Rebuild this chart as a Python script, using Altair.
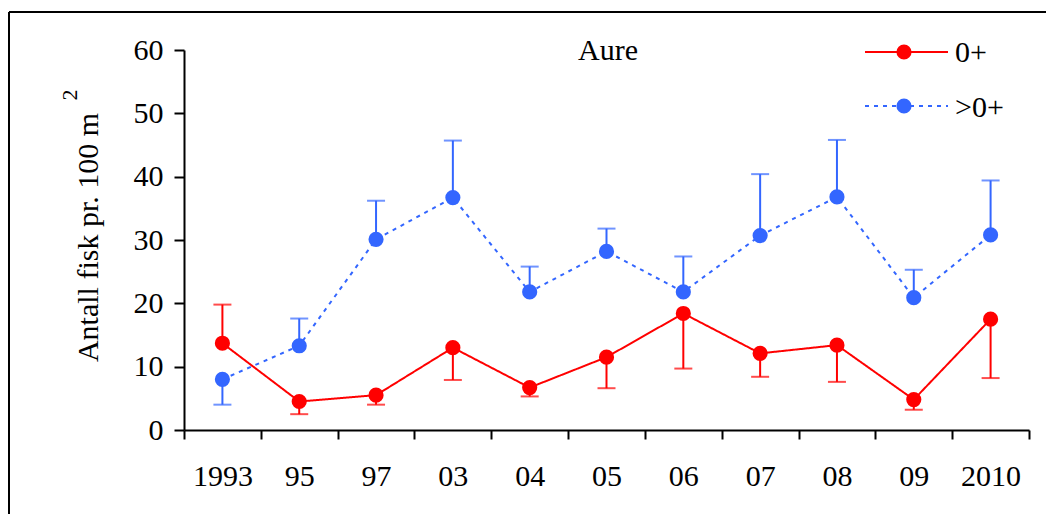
import altair as alt
import pandas as pd

years = ["1993", "95", "97", "03", "04", "05", "06", "07", "08", "09", "2010"]
series_names = ["0+", ">0+"]
young = [13.7, 4.5, 5.5, 13.0, 6.7, 11.5, 18.4, 12.1, 13.4, 4.8, 17.5]
young_err = [19.8, 2.5, 4.0, 7.9, 5.3, 6.6, 9.7, 8.4, 7.6, 3.2, 8.2]
older = [8.0, 13.3, 30.1, 36.7, 21.8, 28.2, 21.8, 30.7, 36.8, 20.9, 30.8]
older_err = [4.0, 17.6, 36.2, 45.7, 25.8, 31.8, 27.4, 40.4, 45.8, 25.3, 39.4]
y_ticks = [0, 10, 20, 30, 40, 50, 60]
title_text = "Aure"
y_title = "Antall fisk pr. 100 m"
y_title_sup = "2"

FONT = "Liberation Serif"
FS = 30
RED = "#FF0000"
BLUE = "#3366FF"
PT = 230

df = pd.DataFrame({
    "year": years * 2,
    "series": [series_names[0]] * len(years) + [series_names[1]] * len(years),
    "value": young + older,
    "err": young_err + older_err,
})

x = alt.X("year:N", sort=years,
          scale=alt.Scale(paddingInner=0, paddingOuter=0),
          axis=alt.Axis(title=None, tickBand="extent", labelAngle=0,
                        labelFont=FONT, labelFontSize=FS, labelColor="black",
                        domainColor="black", domainWidth=2, tickColor="black",
                        tickWidth=2, tickSize=9, labelPadding=22))
y = alt.Y("value:Q", scale=alt.Scale(domain=[0, 60], nice=False),
          axis=alt.Axis(title=y_title, values=y_ticks, grid=False,
                        titleFont=FONT, titleFontSize=FS, titleFontWeight="normal",
                        titleColor="black", titleAngle=270, titleAlign="center",
                        titleBaseline="alphabetic", titleX=-87, titleY=187,
                        labelFont=FONT, labelFontSize=FS, labelColor="black",
                        domainColor="black", domainWidth=2, tickColor="black",
                        tickWidth=2, tickSize=10, labelPadding=11))
color = alt.Color("series:N", scale=alt.Scale(domain=series_names, range=[RED, BLUE]), legend=None)
dash = alt.StrokeDash("series:N", scale=alt.Scale(domain=series_names, range=[[1, 0], [4, 5]]), legend=None)

base = alt.Chart(df)

err_rules = base.mark_rule(strokeWidth=2).encode(x=x, y=y, y2="err:Q", color=color)
caps = base.mark_tick(size=18, thickness=2, orient="horizontal").encode(
    x=x, y=alt.Y("err:Q"), color=color)
lines = base.mark_line(strokeWidth=2).encode(x=x, y=y, color=color, strokeDash=dash)
points = base.mark_circle(size=PT, opacity=1).encode(x=x, y=y, color=color)

# custom legend
leg_layers = []
leg_rows = [(series_names[0], RED, [1, 0], 2, 12), (series_names[1], BLUE, [4, 5], 56, 67)]
one = pd.DataFrame({"a": [0]})
for name, col, sd, ly, ty in leg_rows:
    leg_layers.append(alt.Chart(one).mark_rule(color=col, strokeWidth=2, strokeDash=sd).encode(
        x=alt.value(681), x2=alt.value(764), y=alt.value(ly)))
    leg_layers.append(alt.Chart(one).mark_circle(color=col, size=PT, opacity=1).encode(
        x=alt.value(720), y=alt.value(ly)))
    leg_layers.append(alt.Chart(pd.DataFrame({"t": [name]})).mark_text(
        font=FONT, fontSize=FS, align="left", baseline="alphabetic", color="black").encode(
        x=alt.value(771), y=alt.value(ty), text="t:N"))

title_mark = alt.Chart(pd.DataFrame({"t": [title_text]})).mark_text(
    font=FONT, fontSize=FS, align="center", baseline="alphabetic", color="black").encode(
    x=alt.value(424), y=alt.value(10), text="t:N")
ysup = alt.Chart(pd.DataFrame({"t": [y_title_sup]})).mark_text(
    font=FONT, fontSize=22, align="center", baseline="alphabetic", angle=270, color="black").encode(
    x=alt.value(-107), y=alt.value(45), text="t:N")

frame_top = alt.Chart(one).mark_rule(color="black", strokeWidth=2).encode(
    x=alt.value(-175), x2=alt.value(880), y=alt.value(-38))
frame_left = alt.Chart(one).mark_rule(color="black", strokeWidth=2).encode(
    x=alt.value(-175), y=alt.value(-38), y2=alt.value(480))

chart = alt.layer(
    err_rules, caps, lines, points, *leg_layers, title_mark, ysup, frame_top, frame_left
).properties(
    width=845, height=380,
    autosize=alt.AutoSizeParams(type="none"),
    padding={"left": 176, "top": 42, "right": 17, "bottom": 84},
    background="white",
).configure_view(stroke=None)

chart.save("out.html", embed_options={"renderer": "svg", "actions": False})
